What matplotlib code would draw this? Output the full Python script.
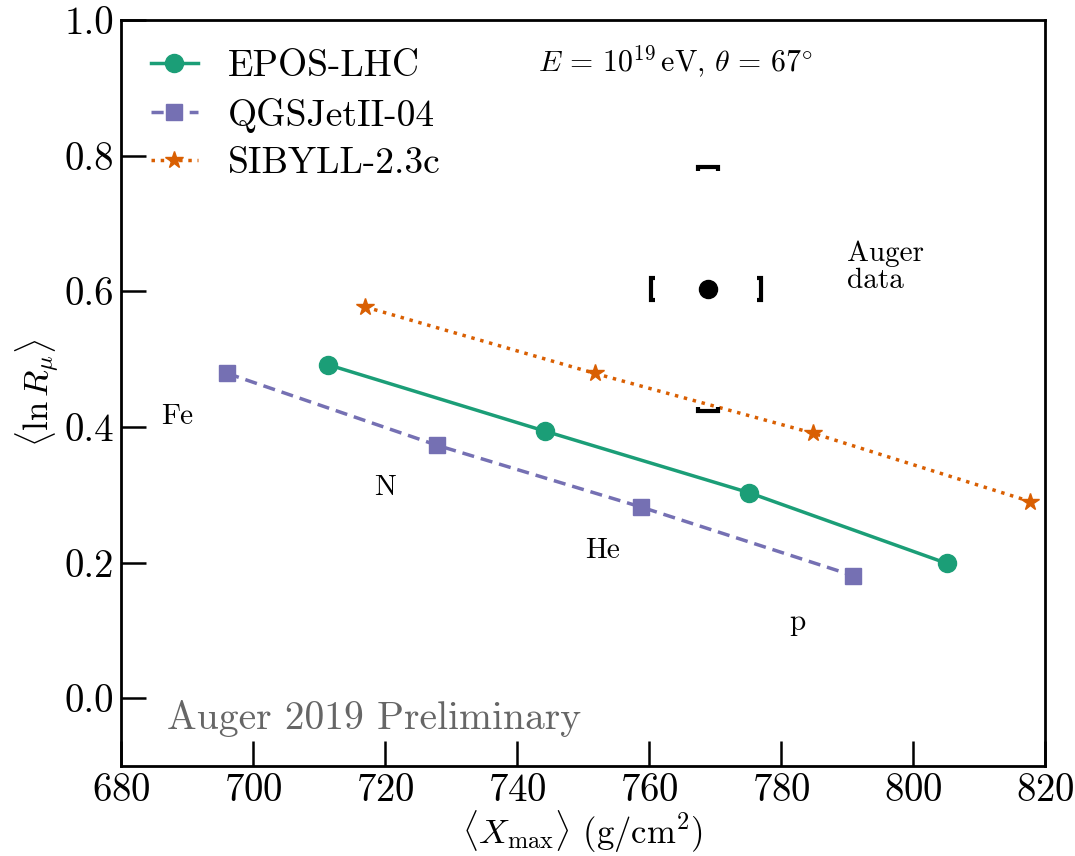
import numpy as np
import matplotlib
matplotlib.use("Agg")
import matplotlib.pyplot as plt

plt.rcParams.update({
    'font.family': 'serif',
    'font.serif': ['cmr10'],
    'mathtext.fontset': 'cm',
    'axes.formatter.use_mathtext': True,
    'axes.unicode_minus': False,
})

# <Xmax> and <ln R_mu> for Fe, N, He, p
epos_x = [711.3, 744.2, 775.2, 805.1]
epos_y = [0.492, 0.394, 0.303, 0.199]
qgs_x = [696.1, 727.9, 758.8, 790.9]
qgs_y = [0.479, 0.373, 0.282, 0.181]
sib_x = [717.0, 751.8, 784.8, 817.8]
sib_y = [0.577, 0.479, 0.391, 0.290]

prim_names = ['Fe', 'N', 'He', 'p']
prim_x = [686.1, 718.3, 750.3, 781.3]
prim_y = [0.405, 0.299, 0.207, 0.101]

# Auger measurement with systematic uncertainties
auger_x = 768.9
auger_y = 0.603
auger_sx = (8.6, 8.1)     # (low, high)
auger_sy = (0.180, 0.181)

c_epos = '#1b9e77'
c_qgs = '#7570b3'
c_sib = '#d95f02'

fig = plt.figure(figsize=(10.75, 8.56), dpi=100)
ax = fig.add_axes([0.1126, 0.105, 0.8595, 0.8716])

ax.plot(epos_x, epos_y, '-', color=c_epos, lw=2.5, marker='o', ms=13, label='EPOS-LHC')
ax.plot(qgs_x, qgs_y, '--', color=c_qgs, lw=2.5, marker='s', ms=12, dashes=(3.5, 2), label='QGSJetII-04')
ax.plot(sib_x, sib_y, ':', color=c_sib, lw=2.5, marker='*', ms=13, label='SIBYLL-2.3c')

# data point + systematic brackets
ax.plot(auger_x, auger_y, 'o', color='black', ms=13)
bw, bh = 1.5, 0.006
by = 0.016
bx = 0.6
xl = auger_x - auger_sx[0]
xr = auger_x + auger_sx[1]
yt = auger_y + auger_sy[1]
yb = auger_y - auger_sy[0]
bk = dict(color='black', lw=3, solid_joinstyle='miter', solid_capstyle='butt')
ax.plot([auger_x - bw, auger_x - bw, auger_x + bw, auger_x + bw], [yt - bh, yt, yt, yt - bh], **bk)
ax.plot([auger_x - bw, auger_x - bw, auger_x + bw, auger_x + bw], [yb + bh, yb, yb, yb + bh], **bk)
ax.plot([xl + bx, xl, xl, xl + bx], [auger_y - by, auger_y - by, auger_y + by, auger_y + by], **bk)
ax.plot([xr - bx, xr, xr, xr - bx], [auger_y - by, auger_y - by, auger_y + by, auger_y + by], **bk)

for name, px, py in zip(prim_names, prim_x, prim_y):
    ax.text(px, py, name, fontsize=21)

ax.text(790.0, 0.605, 'Auger\ndata', fontsize=21, linespacing=1.05)
ax.text(764.0, 0.938, r'$E\,=\,10^{19}\,\mathrm{eV},\,\theta\,=\,67^{\circ}$',
        fontsize=21.5, ha='center', va='center')
ax.text(687.0, -0.03, 'Auger 2019 Preliminary', fontsize=28.5, color='#666666', va='center')

ax.set_xlim(680, 820)
ax.set_ylim(-0.1, 1.0)
ax.set_xticks(np.arange(680, 821, 20))
ax.set_yticks(np.arange(0, 1.01, 0.2))
ax.yaxis.set_major_formatter(matplotlib.ticker.FormatStrFormatter('%.1f'))
ax.tick_params(direction='in', length=18, width=1.8, labelsize=28, pad=5)
for s in ax.spines.values():
    s.set_linewidth(2)

ax.set_xlabel(r'$\langle X_\mathrm{max}\rangle$ (g/cm$^2$)', fontsize=25, labelpad=0)
ax.set_ylabel(r'$\langle \ln R_\mu\rangle$', fontsize=25, labelpad=2)

ax.legend(loc='upper left', frameon=False, fontsize=27, handlelength=1.25,
          borderaxespad=0.4, labelspacing=0.38, handletextpad=0.8)

plt.savefig('out.png', dpi=100)
